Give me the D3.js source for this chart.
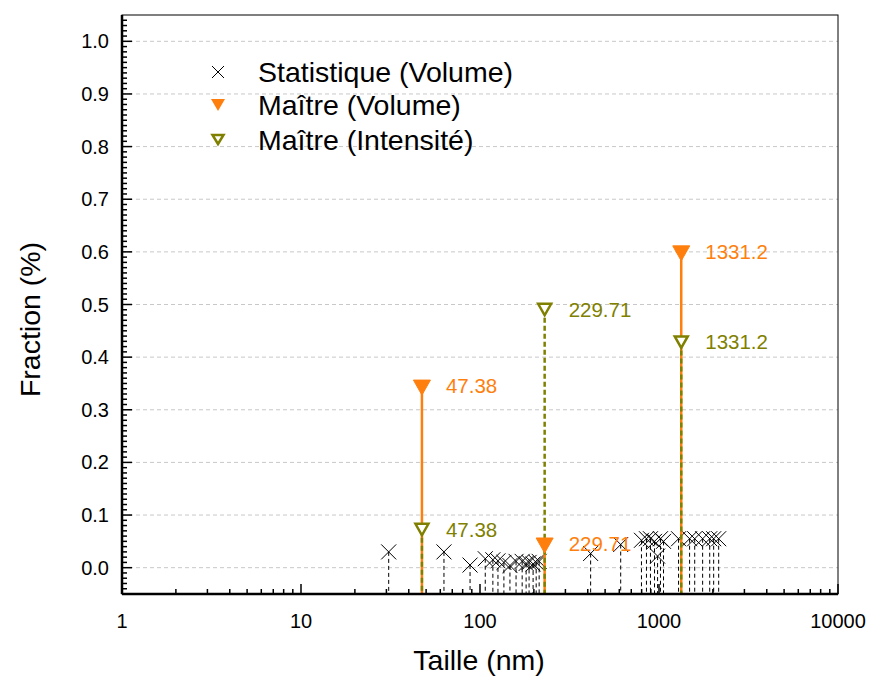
<!DOCTYPE html>
<html>
<head>
<meta charset="utf-8">
<script src="https://cdn.jsdelivr.net/npm/d3@7"></script>
<style>
  body { margin: 0; background: #fff; }
  svg { font-family: "Liberation Sans", Arial, sans-serif; }
</style>
</head>
<body>
<div id="chart"></div>
<script>
// Statistique (Volume) points
var statSizes = [30.9, 62.9, 88, 107, 118, 126, 136, 147, 159, 172, 181, 188, 198, 206, 214,
                 415, 611, 798, 851, 896, 944, 982, 1019, 1060, 1286, 1482, 1583, 1753, 1920, 2020, 2155];
var statFractions = [0.030, 0.030, 0.005, 0.017, 0.015, 0.013, 0.010, 0.004, 0.012, 0.012, 0.008, 0.010, 0.007, 0.010, 0.012,
                     0.027, 0.044, 0.052, 0.055, 0.055, 0.050, 0.022, 0.055, 0.050, 0.055, 0.055, 0.055, 0.055, 0.055, 0.055, 0.055];

// Maître peaks
var peakSizes = [47.38, 229.71, 1331.2];
var peakLabels = ["47.38", "229.71", "1331.2"];
var masterVolume = [0.345, 0.045, 0.60];
var masterIntensity = [0.072, 0.49, 0.428];

var xTicks = [1, 10, 100, 1000, 10000];
var yTicks = [0, 0.1, 0.2, 0.3, 0.4, 0.5, 0.6, 0.7, 0.8, 0.9, 1.0];

var legendNames = ["Statistique (Volume)", "Maître (Volume)", "Maître (Intensité)"];

var orange = "#ff7f0e", olive = "#808000";

var W = 873, H = 678;
var margin = { top: 15, right: 35, bottom: 84, left: 122 },
    width = W - margin.left - margin.right,
    height = H - margin.top - margin.bottom;

var svg = d3.select("#chart")
    .append("svg")
    .attr("width", W)
    .attr("height", H)
    .append("g")
    .attr("transform", "translate(" + margin.left + "," + margin.top + ")");

var x = d3.scaleLog().domain([1, 10000]).range([0, width]);
var y = d3.scaleLinear().domain([-0.05, 1.05]).range([height, 0]);

// grid
svg.selectAll(".grid")
    .data(yTicks)
    .enter()
    .append("line")
    .attr("x1", 0).attr("x2", width)
    .attr("y1", function (d) { return y(d); })
    .attr("y2", function (d) { return y(d); })
    .style("stroke", "#c8c8c8")
    .style("stroke-dasharray", "4,3")
    .style("stroke-width", 1);

// minor ticks
var xMinor = [];
for (var e = 0; e < 4; e++) for (var k = 2; k < 10; k++) xMinor.push(k * Math.pow(10, e));
svg.selectAll(".xminor")
    .data(xMinor)
    .enter()
    .append("line")
    .attr("x1", function (d) { return x(d); })
    .attr("x2", function (d) { return x(d); })
    .attr("y1", height).attr("y2", height - 5)
    .style("stroke", "black").style("stroke-width", 1.5);

svg.selectAll(".xmajor")
    .data(xTicks)
    .enter()
    .append("line")
    .attr("x1", function (d) { return x(d); })
    .attr("x2", function (d) { return x(d); })
    .attr("y1", height).attr("y2", height - 10)
    .style("stroke", "black").style("stroke-width", 1.5);

var yMinor = d3.range(-4, 105).map(function (i) { return i / 100; });
svg.selectAll(".yminor")
    .data(yMinor)
    .enter()
    .append("line")
    .attr("x1", 0)
    .attr("x2", function (d) { return Math.round(d * 100) % 10 === 0 ? 10 : 5; })
    .attr("y1", function (d) { return y(d); })
    .attr("y2", function (d) { return y(d); })
    .style("stroke", "black").style("stroke-width", 1.5);

// tick labels
svg.selectAll(".xlab")
    .data(xTicks)
    .enter()
    .append("text")
    .attr("x", function (d) { return x(d); })
    .attr("y", height + 34)
    .attr("text-anchor", "middle")
    .style("font-size", "20px")
    .text(function (d) { return d; });

svg.selectAll(".ylab")
    .data(yTicks)
    .enter()
    .append("text")
    .attr("x", -13)
    .attr("y", function (d) { return y(d) + 7; })
    .attr("text-anchor", "end")
    .style("font-size", "20px")
    .text(function (d) { return d.toFixed(1); });

// axis titles
svg.append("text")
    .attr("x", width / 2 - 1)
    .attr("y", height + 76)
    .attr("text-anchor", "middle")
    .style("font-size", "28.5px")
    .text("Taille (nm)");

svg.append("text")
    .attr("transform", "translate(-82," + (height / 2 + 15) + ") rotate(-90)")
    .attr("text-anchor", "middle")
    .style("font-size", "28.5px")
    .text("Fraction (%)");

// statistique drop lines
svg.selectAll(".drop")
    .data(statSizes)
    .enter()
    .append("line")
    .attr("x1", function (d) { return x(d); })
    .attr("x2", function (d) { return x(d); })
    .attr("y1", function (d, i) { return y(statFractions[i]); })
    .attr("y2", height)
    .style("stroke", "black")
    .style("stroke-width", 1)
    .style("stroke-dasharray", "4,3");

// cross markers
function cross(sel, s) {
    sel.append("path")
        .attr("d", "M" + (-s) + "," + (-s) + "L" + s + "," + s + "M" + (-s) + "," + s + "L" + s + "," + (-s))
        .style("stroke", "black")
        .style("stroke-width", 1)
        .style("fill", "none");
}
var crosses = svg.selectAll(".cross")
    .data(statSizes)
    .enter()
    .append("g")
    .attr("transform", function (d, i) { return "translate(" + x(d) + "," + y(statFractions[i]) + ")"; });
crosses.each(function () { cross(d3.select(this), 7.5); });

// maître volume stems (solid orange)
svg.selectAll(".vstem")
    .data(peakSizes)
    .enter()
    .append("line")
    .attr("x1", function (d) { return x(d); })
    .attr("x2", function (d) { return x(d); })
    .attr("y1", function (d, i) { return y(masterVolume[i]); })
    .attr("y2", height)
    .style("stroke", orange)
    .style("stroke-width", 2.5);

// maître intensité stems (dashed olive)
svg.selectAll(".istem")
    .data(peakSizes)
    .enter()
    .append("line")
    .attr("x1", function (d) { return x(d); })
    .attr("x2", function (d) { return x(d); })
    .attr("y1", function (d, i) { return y(masterIntensity[i]); })
    .attr("y2", height)
    .style("stroke", olive)
    .style("stroke-width", 2.5)
    .style("stroke-dasharray", "5,3");

svg.selectAll(".vmark")
    .data(peakSizes)
    .enter()
    .append("path")
    .attr("d", "M-8.5,-6L8.5,-6L0,9Z")
    .attr("transform", function (d, i) { return "translate(" + x(d) + "," + y(masterVolume[i]) + ")"; })
    .style("fill", orange)
    .style("stroke", orange)
    .style("stroke-width", 1);

svg.selectAll(".imark")
    .data(peakSizes)
    .enter()
    .append("path")
    .attr("d", "M-6.5,-6L6.5,-6L0,5.5Z")
    .attr("transform", function (d, i) { return "translate(" + x(d) + "," + y(masterIntensity[i]) + ")"; })
    .style("fill", "white")
    .style("stroke", olive)
    .style("stroke-width", 2.5);

// peak labels
svg.selectAll(".vlab")
    .data(peakSizes)
    .enter()
    .append("text")
    .attr("x", function (d) { return x(d) + 24; })
    .attr("y", function (d, i) { return y(masterVolume[i]) + 7; })
    .style("font-size", "20.5px")
    .style("fill", orange)
    .text(function (d, i) { return peakLabels[i]; });

svg.selectAll(".ilab")
    .data(peakSizes)
    .enter()
    .append("text")
    .attr("x", function (d) { return x(d) + 24; })
    .attr("y", function (d, i) { return y(masterIntensity[i]) + 7; })
    .style("font-size", "20.5px")
    .style("fill", olive)
    .text(function (d, i) { return peakLabels[i]; });

// frame
svg.append("rect")
    .attr("x", 0).attr("y", 0)
    .attr("width", width).attr("height", height)
    .style("fill", "none")
    .style("stroke", "black")
    .style("stroke-width", 1);
svg.append("line")
    .attr("x1", 0).attr("x2", 0).attr("y1", 0).attr("y2", height)
    .style("stroke", "black").style("stroke-width", 2.5);
svg.append("line")
    .attr("x1", 0).attr("x2", width).attr("y1", height).attr("y2", height)
    .style("stroke", "black").style("stroke-width", 2.5);

// legend
var legend = svg.append("g").attr("transform", "translate(96,57)");
var rowY = [0, 33, 68];
legendNames.forEach(function (name, i) {
    var g = legend.append("g").attr("transform", "translate(0," + rowY[i] + ")");
    if (i === 0) cross(g, 6);
    else if (i === 1) g.append("path").attr("d", "M-7,-6L7,-6L0,6Z").style("fill", orange);
    else g.append("path").attr("d", "M-5.5,-5L5.5,-5L0,4Z").style("fill", "white").style("stroke", olive).style("stroke-width", 2.5);
    g.append("text")
        .attr("x", 40)
        .attr("y", 10)
        .style("font-size", "28.5px")
        .text(name);
});
</script>
</body>
</html>
